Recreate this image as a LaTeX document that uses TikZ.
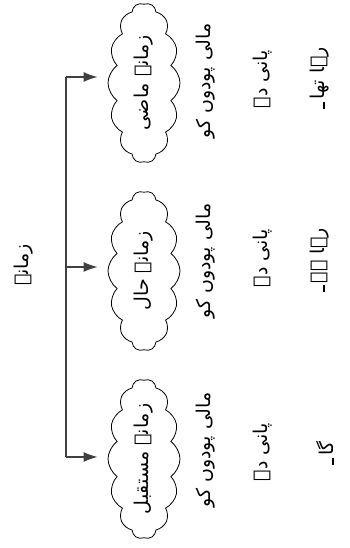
\documentclass[tikz,border=0pt]{standalone}
\usepackage{fontspec}
\newfontfamily\urdu[Script=Arabic]{DejaVu Sans}
\TeXXeTstate=1
\usetikzlibrary{shapes.symbols,arrows.meta}
\newcommand\urstop{\kern2pt\rule{7pt}{1.6pt}}
\begin{document}
\begin{tikzpicture}[x=1pt,y=1pt,
  ur/.style={font=\urdu\fontsize{19}{22}\selectfont, rotate=90, inner sep=0pt},
  cloudbox/.style={ur, cloud, draw=black, line width=0.8pt, cloud puffs=14,
    cloud puff arc=110, cloud ignores aspect, inner sep=-4pt,
    minimum width=160pt, minimum height=72pt},
  link/.style={draw=black!75, line width=1.3pt},
  arr/.style={link, -{Latex[length=14pt,width=10pt]}, shorten >=10pt}]
\useasboundingbox (0,0) rectangle (350,548);
% root
\node[ur] (root) at (24,283) {\beginR زمانہ\endR};
% clouds
\node[cloudbox] (c1) at (144,465) {\beginR زمانہ ماضی\endR};
\node[cloudbox] (c2) at (144,277) {\beginR زمانہ حال\endR};
\node[cloudbox] (c3) at (144,89) {\beginR زمانہ مستقبل\endR};
% junctions
\coordinate (j1) at (66,471);
\coordinate (j2) at (66,281);
\coordinate (j3) at (66,91);
\draw[link] (j1) -- (j3);
\draw[arr] (j1) -- (j1 -| c1.north);
\draw[arr] (j2) -- (j2 -| c2.north);
\draw[arr] (j3) -- (j3 -| c3.north);
% sentences
\node[ur] (a1) at (206,467) {\beginR مالی پودوں کو\endR};
\node[ur] (a2) at (263,469) {\beginR پانی دے\endR};
\node[ur] (a3) at (320,470) {\beginR رہا تھا\urstop\endR};
\node[ur] (b1) at (206,287) {\beginR مالی پودوں کو\endR};
\node[ur] (b2) at (263,290) {\beginR پانی دے\endR};
\node[ur] (b3) at (320,288) {\beginR رہا ہے\urstop\endR};
\node[ur] (d1) at (206,98) {\beginR مالی پودوں کو\endR};
\node[ur] (d2) at (263,96) {\beginR پانی دے\endR};
\node[ur] (d3) at (325,95) {\beginR گا\urstop\endR};
\end{tikzpicture}
\end{document}
